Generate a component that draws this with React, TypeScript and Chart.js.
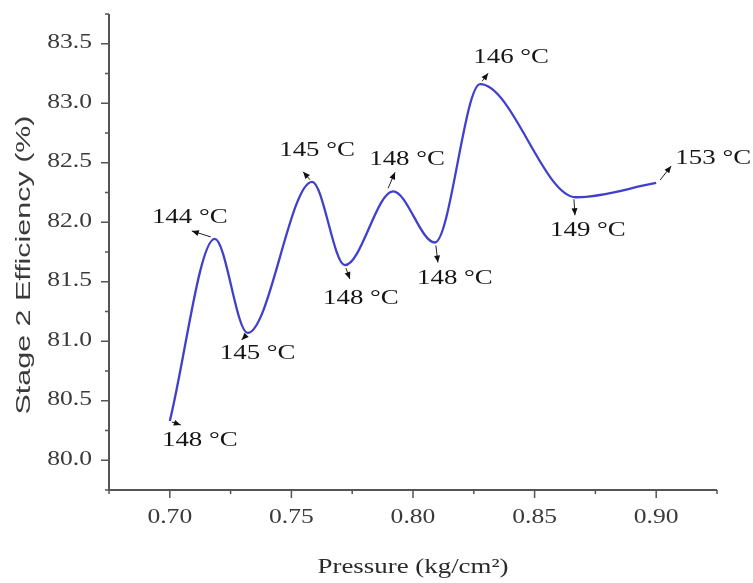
import React, { useEffect, useRef } from "react";
import { Chart, registerables } from "chart.js";

Chart.register(...registerables);

// ---- data ----
const PRESSURE = [0.7, 0.7185, 0.732, 0.7585, 0.772, 0.7918, 0.809, 0.8276, 0.867, 0.9];
const EFFICIENCY = [80.33, 81.86, 81.07, 82.34, 81.64, 82.26, 81.83, 83.16, 82.21, 82.33];
const TEMPERATURE = [148, 144, 145, 145, 148, 148, 148, 146, 149, 153];
const X_TICKS = [0.7, 0.75, 0.8, 0.85, 0.9];
const Y_TICKS = [80.0, 80.5, 81.0, 81.5, 82.0, 82.5, 83.0, 83.5];
const X_TITLE = "Pressure (kg/cm\u00B2)";
const Y_TITLE = "Stage 2 Efficiency (%)";

// ---- styling / annotation placement (pixel offsets from each point) ----
const ANNOT_LAYOUT = [
  { tx: 30, ty: 20, ax: 2, ay: 1, hx: 11, hy: 4 },
  { tx: -25, ty: -21, ax: -4, ay: -2, hx: -23, hy: -8 },
  { tx: 10, ty: 21, ax: -1, ay: 2, hx: -6, hy: 7 },
  { tx: 5, ty: -31, ax: -2, ay: -2, hx: -9, hy: -10 },
  { tx: 16, ty: 33, ax: 1, ay: 3, hx: 5, hy: 14 },
  { tx: 14, ty: -32, ax: -5, ay: -3, hx: 2, hy: -19 },
  { tx: 20, ty: 36, ax: 1, ay: 3, hx: 3, hy: 20 },
  { tx: 31, ty: -27, ax: 2, ay: -3, hx: 8, hy: -11 },
  { tx: 12, ty: 33, ax: -2, ay: 2, hx: -1, hy: 18 },
  { tx: 57, ty: -24, ax: 4, ay: -3, hx: 15, hy: -17 },
];

const SERIF = "'Liberation Serif', 'Times New Roman', serif";
const SANS = "'Liberation Sans', Arial, sans-serif";
const STRETCH = 1.28;

function drawText(
  ctx: CanvasRenderingContext2D,
  text: string,
  x: number,
  y: number,
  font: string,
  color: string,
  align: CanvasTextAlign,
  sx: number,
  rotate = false
) {
  ctx.save();
  ctx.translate(x, y);
  if (rotate) ctx.rotate(-Math.PI / 2);
  ctx.scale(sx, 1);
  ctx.font = font;
  ctx.fillStyle = color;
  ctx.textAlign = align;
  ctx.textBaseline = "middle";
  ctx.fillText(text, 0, 0);
  ctx.restore();
}

const decorPlugin = {
  id: "decor",
  afterDraw(chart: any) {
    const ctx: CanvasRenderingContext2D = chart.ctx;
    const xs = chart.scales.x;
    const ys = chart.scales.y;
    const area = chart.chartArea;
    const axisColor = "#555";
    ctx.save();
    // axis lines
    ctx.strokeStyle = axisColor;
    ctx.lineWidth = 2;
    ctx.beginPath();
    ctx.moveTo(area.left, area.top);
    ctx.lineTo(area.left, area.bottom);
    ctx.lineTo(area.right, area.bottom);
    ctx.stroke();

    // ticks: majors at labelled values, minors halfway between
    ctx.lineWidth = 1.5;
    const xStep = X_TICKS[1] - X_TICKS[0];
    const yStep = Y_TICKS[1] - Y_TICKS[0];
    const xMinor: number[] = [X_TICKS[0] - xStep / 2, ...X_TICKS.map((v) => v + xStep / 2)];
    const yMinor: number[] = [Y_TICKS[0] - yStep / 2, ...Y_TICKS.map((v) => v + yStep / 2)];
    ctx.beginPath();
    X_TICKS.forEach((v) => {
      const px = xs.getPixelForValue(v);
      ctx.moveTo(px, area.bottom);
      ctx.lineTo(px, area.bottom + 8);
    });
    xMinor.forEach((v) => {
      const px = xs.getPixelForValue(v);
      ctx.moveTo(px, area.bottom);
      ctx.lineTo(px, area.bottom + 4);
    });
    Y_TICKS.forEach((v) => {
      const py = ys.getPixelForValue(v);
      ctx.moveTo(area.left, py);
      ctx.lineTo(area.left - 8, py);
    });
    yMinor.forEach((v) => {
      const py = ys.getPixelForValue(v);
      ctx.moveTo(area.left, py);
      ctx.lineTo(area.left - 4, py);
    });
    ctx.stroke();

    // tick labels
    const tickFont = `20px ${SERIF}`;
    const tickColor = "#3a3a3a";
    X_TICKS.forEach((v) => {
      drawText(ctx, v.toFixed(2), xs.getPixelForValue(v), area.bottom + 28, tickFont, tickColor, "center", STRETCH);
    });
    Y_TICKS.forEach((v) => {
      drawText(ctx, v.toFixed(1), area.left - 17, ys.getPixelForValue(v) - 1, tickFont, tickColor, "right", STRETCH);
    });

    // titles
    drawText(ctx, X_TITLE, (area.left + area.right) / 2, 567, `21px ${SERIF}`, "#2a2a2a", "center", STRETCH);
    drawText(ctx, Y_TITLE, 24, 265, `21px ${SANS}`, "#3a3a3a", "center", 1.45, true);

    // annotations
    PRESSURE.forEach((p, i) => {
      const L = ANNOT_LAYOUT[i];
      const px = xs.getPixelForValue(p);
      const py = ys.getPixelForValue(EFFICIENCY[i]);
      const x0 = px + L.ax;
      const y0 = py + L.ay;
      const x1 = px + L.hx;
      const y1 = py + L.hy;
      ctx.strokeStyle = "#222";
      ctx.fillStyle = "#111";
      ctx.lineWidth = 1;
      ctx.beginPath();
      ctx.moveTo(x0, y0);
      ctx.lineTo(x1, y1);
      ctx.stroke();
      const ang = Math.atan2(y1 - y0, x1 - x0);
      const len = 7;
      const w = 3;
      ctx.beginPath();
      ctx.moveTo(x1, y1);
      ctx.lineTo(x1 - len * Math.cos(ang) + w * Math.sin(ang), y1 - len * Math.sin(ang) - w * Math.cos(ang));
      ctx.lineTo(x1 - len * Math.cos(ang) - w * Math.sin(ang), y1 - len * Math.sin(ang) + w * Math.cos(ang));
      ctx.closePath();
      ctx.fill();
      drawText(ctx, `${TEMPERATURE[i]} \u00B0C`, px + L.tx, py + L.ty, `21px ${SERIF}`, "#151515", "center", STRETCH);
    });
    ctx.restore();
  },
};

export default function App() {
  const ref = useRef<HTMLCanvasElement | null>(null);
  useEffect(() => {
    if (!ref.current) return;
    const chart = new Chart(ref.current, {
      type: "line",
      data: {
        datasets: [
          {
            data: PRESSURE.map((x, i) => ({ x, y: EFFICIENCY[i] })),
            borderColor: "#4040cc",
            borderWidth: 2.3,
            pointRadius: 0,
            cubicInterpolationMode: "monotone",
            fill: false,
          },
        ],
      },
      options: {
        animation: false,
        responsive: false,
        maintainAspectRatio: false,
        layout: { padding: { left: 0, top: 14, right: 36, bottom: 0 } },
        plugins: { legend: { display: false }, tooltip: { enabled: false } },
        scales: {
          x: {
            type: "linear",
            min: 0.675,
            max: 0.925,
            ticks: { display: false },
            grid: { display: false },
            border: { display: false },
            afterFit: (s: any) => {
              s.height = 93;
            },
          },
          y: {
            type: "linear",
            min: 79.75,
            max: 83.75,
            ticks: { display: false },
            grid: { display: false },
            border: { display: false },
            afterFit: (s: any) => {
              s.width = 109;
            },
          },
        },
      },
      plugins: [decorPlugin],
    } as any);
    return () => chart.destroy();
  }, []);
  return (
    <div style={{ position: "absolute", left: 0, top: 0, width: 753, height: 583, background: "#fff" }}>
      <canvas ref={ref} width={753} height={583} style={{ display: "block" }} />
    </div>
  );
}
